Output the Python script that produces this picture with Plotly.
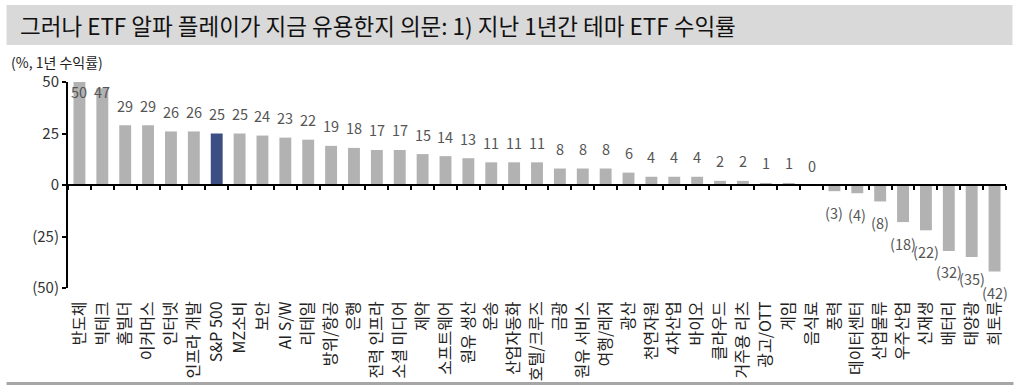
import plotly.graph_objects as go

categories = ["반도체", "빅테크", "홈빌더", "이커머스", "인터넷", "인프라 개발", "S&P 500", "MZ소비",
              "보안", "AI S/W", "리테일", "방위/항공", "은행", "전력 인프라", "소셜 미디어", "제약",
              "소프트웨어", "원유 생산", "운송", "산업자동화", "호텔/크루즈", "금광", "원유 서비스",
              "여행/레저", "광산", "천연자원", "4차산업", "바이오", "클라우드", "거주용 리츠",
              "광고/OTT", "게임", "음식료", "풍력", "데이터센터", "산업물류", "우주산업", "신재생",
              "배터리", "태양광", "희토류"]
values = [50, 47, 29, 29, 26, 26, 25, 25, 24, 23, 22, 19, 18, 17, 17, 15, 14, 13, 11, 11, 11,
          8, 8, 8, 6, 4, 4, 4, 2, 2, 1, 1, 0, -3, -4, -8, -18, -22, -32, -35, -42]
highlight = "S&P 500"
ytick_vals = [50, 25, 0, -25, -50]
ytick_text = ["50", "25", "0", "(25)", "(50)"]

FONT = "Noto Sans CJK KR, Noto Sans, sans-serif"
GRAY = "#b2b2b2"
NAVY = "#3d4f82"

W, H = 1034, 386
L, R, T, B = 67.5, 27.5, 82, 98
PW, PH = W - L - R, H - T - B
PX_PER_UNIT = PH / 100.0

def px(x):
    return (x - L) / PW

def py(y):
    return (H - B - y) / PH

colors = [NAVY if c == highlight else GRAY for c in categories]

fig = go.Figure()
fig.add_trace(go.Bar(x=categories, y=values, marker=dict(color=colors, line=dict(width=0)),
                     width=0.52, hoverinfo="x+y", showlegend=False))
fig.add_trace(go.Scatter(x=categories, y=[0] * len(categories), xaxis="x2", mode="markers",
                         marker=dict(opacity=0), hoverinfo="skip", showlegend=False))

def fmt(v):
    return f"({abs(v)})" if v < 0 else f"{v}"

anns = []
for c, v in zip(categories, values):
    if v >= 0:
        shift = min(20, (45.5 - v) * PX_PER_UNIT)
    else:
        shift = -21
    anns.append(dict(x=c, y=v, yshift=shift, text=fmt(v), showarrow=False,
                     font=dict(family=FONT, size=14.5, color="#555555"),
                     xanchor="center", yanchor="middle"))

anns += [
    dict(text="그러나 ETF 알파 플레이가 지금 유용한지 의문: 1) 지난 1년간 테마 ETF 수익률",
         xref="paper", yref="paper", x=px(17), y=py(25),
         xanchor="left", yanchor="middle", showarrow=False,
         font=dict(family=FONT, size=22.5, color="#111111")),
    dict(text="(%, 1년 수익률)", xref="paper", yref="paper", x=px(8),
         y=py(62), xanchor="left", yanchor="middle", showarrow=False,
         font=dict(family=FONT, size=14, color="#222222")),
]

fig.update_layout(
    width=W, height=H,
    margin=dict(l=L, r=R, t=T, b=B),
    paper_bgcolor="white", plot_bgcolor="white",
    xaxis=dict(type="category", categoryorder="array", categoryarray=categories,
               range=[-0.5, len(categories) - 0.5], showline=False, ticks="outside",
               ticklen=6, tickcolor="rgba(0,0,0,0)",
               tickangle=-90, tickfont=dict(family=FONT, size=16, color="#222222"),
               showgrid=False, zeroline=False, automargin=False),
    xaxis2=dict(type="category", categoryorder="array", categoryarray=categories,
                overlaying="x", anchor="free", position=0.5,
                range=[-0.5, len(categories) - 0.5], showline=True, linecolor="black",
                linewidth=2, ticks="outside", tickson="boundaries", ticklen=4,
                tickwidth=2, tickcolor="black", showticklabels=False, showgrid=False,
                zeroline=False, automargin=False),
    yaxis=dict(range=[-50, 50], tickvals=ytick_vals, ticktext=ytick_text,
               showline=True, linecolor="black", linewidth=2, ticks="outside",
               ticklen=4, tickwidth=2, tickcolor="black", showgrid=False, zeroline=False,
               tickfont=dict(family=FONT, size=15, color="#333333"), automargin=False),
    shapes=[
        dict(type="rect", xref="paper", yref="paper", x0=px(6), x1=px(1013),
             y0=py(45), y1=py(5), fillcolor="#d9d9d9", line=dict(width=0), layer="below"),
        dict(type="line", xref="paper", yref="paper", x0=px(6), x1=px(1014),
             y0=py(383.5), y1=py(383.5), line=dict(color="#a6a6a6", width=3)),
    ],
    annotations=anns,
)

fig.write_html("out.html", config={"displayModeBar": False},
               post_script="document.body.style.margin='0';")
